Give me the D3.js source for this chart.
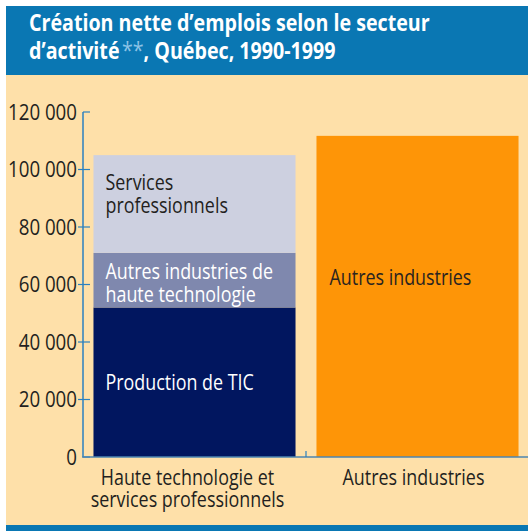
<!DOCTYPE html>
<html><head><meta charset="utf-8">
<script src="https://cdn.jsdelivr.net/npm/d3@7/dist/d3.min.js"></script>
<style>
body{margin:0;background:#fff;}
svg{display:block;}
text{font-family:"Open Sans",sans-serif;}
</style></head>
<body><svg id="c" width="528" height="531"></svg>
<script>
// ---- data ----
const titleLines = ["Création nette d’emplois selon le secteur", "d’activité", "**", ", Québec, 1990-1999"];
const categories = ["Haute technologie et services professionnels", "Autres industries"];
const categoryLabelLines = [["Haute technologie et", "services professionnels"], ["Autres industries"]];
const seriesNames = ["Production de TIC", "Autres industries de haute technologie", "Services professionnels", "Autres industries"];
const seriesLabelLines = [["Production de TIC"], ["Autres industries de", "haute technologie"], ["Services", "professionnels"], ["Autres industries"]];
const productionTIC = [52000, 0];
const autresHauteTech = [19000, 0];
const servicesPro = [34000, 0];
const autresIndustries = [0, 111700];
const yTicks = [0, 20000, 40000, 60000, 80000, 100000, 120000];
const yTickLabels = ["0", "20 000", "40 000", "60 000", "80 000", "100 000", "120 000"];

// ---- style ----
const colors = ["#01165f", "#7f88ae", "#cdd0e0", "#fe9507"];
const labelColors = ["#ffffff", "#ffffff", "#231f20", "#2a2420"];
const labelMode = ["center", "top", "top", "at"];
const labelOffset = [0, 26, 35, 149];
const FS = 21, FT = 24;

const svg = d3.select("#c");

// measure horizontal compression factors for the condensed look
function measure(txt, size, weight) {
  const t = svg.append("text").attr("font-size", size).attr("font-weight", weight).text(txt);
  const w = t.node().getComputedTextLength();
  t.remove();
  return w;
}
const sxTitle = 401 / measure(titleLines[0], FT, "bold");
const sxBody = 142 / measure("Autres industries", FS, "normal");
const sxTick = 69 / measure("120 000", FS, "normal");
function squeeze(sel, ax, sx) {
  sel.attr("transform", `translate(${ax},0) scale(${sx},1) translate(${-ax},0)`);
}

svg.append("rect").attr("x", 6).attr("y", 6).attr("width", 522).attr("height", 69).attr("fill", "#0a77b3");
svg.append("rect").attr("x", 6).attr("y", 75).attr("width", 522).attr("height", 450).attr("fill", "#fee0a9");
svg.append("rect").attr("x", 6).attr("y", 525).attr("width", 522).attr("height", 6).attr("fill", "#0a77b3");

const title = svg.append("g").attr("fill", "#fff").attr("font-weight", "bold").attr("font-size", FT);
title.append("text").attr("x", 29).attr("y", 31).text(titleLines[0]);
const t2 = title.append("text").attr("x", 29).attr("y", 59);
t2.append("tspan").text(titleLines[1]);
t2.append("tspan").attr("fill", "#8dc3e6").attr("font-weight", "normal").attr("dx", 3).text(titleLines[2]);
t2.append("tspan").text(titleLines[3]);
squeeze(title, 29, sxTitle);

const y = d3.scaleLinear().domain([0, 120000]).range([457, 112]);
const x = d3.scaleBand().domain(categories).range([83, 529]).paddingInner(0.094).paddingOuter(0.047);

const table = categories.map((c, i) => ({cat: c, s0: productionTIC[i], s1: autresHauteTech[i], s2: servicesPro[i], s3: autresIndustries[i]}));
const stack = d3.stack().keys(["s0", "s1", "s2", "s3"])(table);

stack.forEach((layer, si) => {
  layer.forEach(d => {
    if (d[1] - d[0] <= 0) return;
    svg.append("rect")
      .attr("x", x(d.data.cat)).attr("width", x.bandwidth())
      .attr("y", y(d[1])).attr("height", y(d[0]) - y(d[1]))
      .attr("fill", colors[si]);
    const lines = seriesLabelLines[si];
    let y0;
    if (labelMode[si] === "center") y0 = (y(d[0]) + y(d[1])) / 2 + 8;
    else y0 = y(d[1]) + labelOffset[si];
    const tx = x(d.data.cat) + (si === 3 ? 13 : 12);
    const t = svg.append("text").attr("font-size", FS).attr("fill", labelColors[si]);
    lines.forEach((l, li) => t.append("tspan").attr("x", tx).attr("y", y0 + li * 23).text(l));
    squeeze(t, tx, sxBody);
  });
});

// y axis
const axisColor = "#2b80c0";
const yAxis = svg.append("g");
yAxis.append("line").attr("x1", 83).attr("x2", 83).attr("y1", 112).attr("y2", 457).attr("stroke", axisColor).attr("stroke-width", 1.5);
yTicks.forEach((v, i) => {
  yAxis.append("line").attr("x1", i === 6 || i === 0 ? 83 : 78).attr("x2", 90).attr("y1", y(v)).attr("y2", y(v)).attr("stroke", axisColor).attr("stroke-width", 1.2);
  const t = yAxis.append("text").attr("x", 77).attr("y", y(v) + 8).attr("text-anchor", "end").attr("font-size", FS).attr("fill", "#231f20").text(yTickLabels[i]);
  squeeze(t, 77, sxTick);
});
// x axis
svg.append("line").attr("x1", 82).attr("x2", 528).attr("y1", 457).attr("y2", 457).attr("stroke", "#4d86b0").attr("stroke-width", 1.5);
const midTick = (x(categories[0]) + x.bandwidth() + x(categories[1])) / 2;
svg.append("line").attr("x1", midTick).attr("x2", midTick).attr("y1", 451).attr("y2", 457).attr("stroke", axisColor).attr("stroke-width", 1.2);

categories.forEach((c, i) => {
  const cx = x(c) + x.bandwidth() / 2 + (i === 0 ? -7 : -4);
  const t = svg.append("text").attr("font-size", FS).attr("fill", "#231f20").attr("text-anchor", "middle");
  categoryLabelLines[i].forEach((l, li) => t.append("tspan").attr("x", cx).attr("y", 485 + li * 22).text(l));
  squeeze(t, cx, sxBody);
});
</script></body></html>
